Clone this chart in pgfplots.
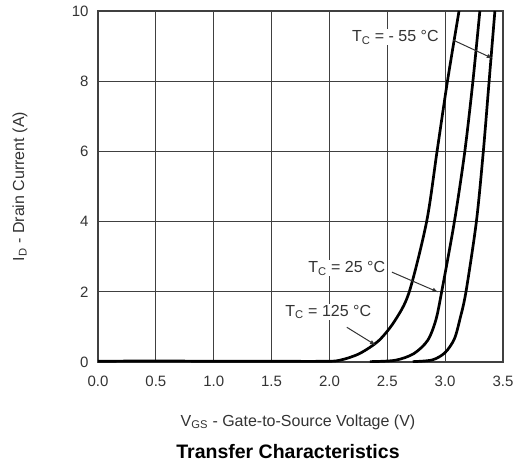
\documentclass[border=0pt]{standalone}
\usepackage{pgfplots}
\pgfplotsset{compat=1.18}
\usepackage{fontspec}
\setmainfont{Liberation Sans}
\begin{document}
\begin{tikzpicture}
\path[use as bounding box] (-98pt,-100pt) rectangle (419pt,362pt);
\begin{axis}[
  scale only axis, width=405pt, height=351pt,
  anchor=south west, at={(0pt,0pt)},
  xmin=0, xmax=3.5, ymin=0, ymax=10,
  xtick={0,0.5,...,3.5}, ytick={0,2,...,10},
  xticklabels={0.0,0.5,1.0,1.5,2.0,2.5,3.0,3.5},
  grid=major,
  grid style={line width=1.1pt, black!75},
  axis line style={line width=1.3pt, black!75},
  major tick length=0pt,
  tick label style={font=\fontsize{15}{17}\selectfont, text=black!80},
  /pgf/number format/assume math mode=true,
  xticklabel style={yshift=-10pt, text height=11pt, text depth=0pt},
  yticklabel style={xshift=-6pt},
  clip=false,
]
\addplot[black, line width=2.7pt, smooth, tension=0.5] coordinates {
(0,0.02) (0.5,0.03) (1.0,0.02) (1.5,0.02) (1.95,0.02) (2.09,0.05) (2.26,0.24) (2.43,0.62) (2.57,1.2) (2.69,2) (2.84,4) (2.93,6) (3.02,8) (3.12,10)};
\addplot[black, line width=2.7pt, smooth, tension=0.5] coordinates {
(2.35,0.01) (2.57,0.05) (2.73,0.24) (2.85,0.62) (2.92,1.2) (2.97,2) (3.08,4) (3.17,6) (3.24,8) (3.30,10)};
\addplot[black, line width=2.7pt, smooth, tension=0.5] coordinates {
(2.72,0.01) (2.89,0.06) (3.0,0.27) (3.08,0.66) (3.13,1.25) (3.18,2) (3.27,4) (3.33,6) (3.38,8) (3.43,10)};
\node[fill=white, inner sep=1pt, font=\fontsize{16}{18}\selectfont, text=black!80] at (axis cs:2.57,9.25) {T\textsubscript{C} = - 55 °C};
\node[fill=white, inner sep=1pt, font=\fontsize{16}{18}\selectfont, text=black!80] at (axis cs:2.15,2.67) {T\textsubscript{C} = 25 °C};
\node[fill=white, inner sep=1pt, font=\fontsize{16}{18}\selectfont, text=black!80] at (axis cs:1.99,1.42) {T\textsubscript{C} = 125 °C};
\draw[-latex, line width=1pt, black!80] (axis cs:3.07,9.17) -- (axis cs:3.41,8.65);
\draw[-latex, line width=1pt, black!80] (axis cs:2.54,2.56) -- (axis cs:2.94,1.99);
\draw[-latex, line width=1pt, black!80] (axis cs:2.15,0.99) -- (axis cs:2.40,0.48);
\end{axis}
\node[font=\fontsize{16}{18}\selectfont, text=black!80] at (200pt,-60pt) {V\textsubscript{GS} - Gate-to-Source Voltage (V)};
\node[font=\fontsize{19.5}{21}\selectfont\bfseries] at (190pt,-90pt) {Transfer Characteristics};
\node[rotate=90, font=\fontsize{16}{18}\selectfont, text=black!80] at (-78pt,175.5pt) {I\textsubscript{D} - Drain Current (A)};
\end{tikzpicture}
\end{document}
